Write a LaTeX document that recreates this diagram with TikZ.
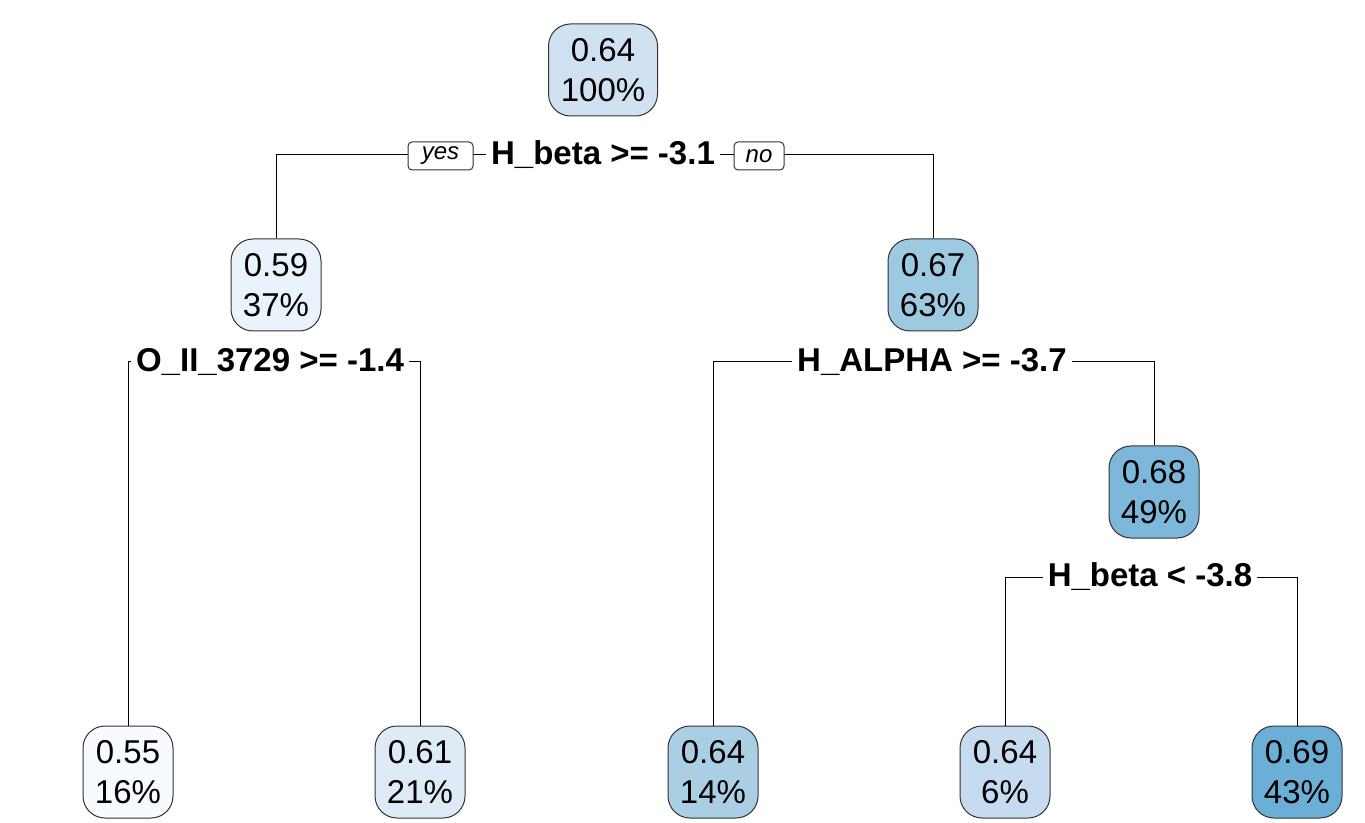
\documentclass[tikz,border=0pt]{standalone}
\usepackage{fontspec}
\setmainfont{Liberation Sans}
\definecolor{c064r}{RGB}{208,225,242}
\definecolor{c059}{RGB}{234,242,251}
\definecolor{c067}{RGB}{158,202,225}
\definecolor{c055}{RGB}{247,251,255}
\definecolor{c061}{RGB}{222,235,247}
\definecolor{c064a}{RGB}{170,207,229}
\definecolor{c064b}{RGB}{198,219,239}
\definecolor{c068}{RGB}{125,184,218}
\definecolor{c069}{RGB}{107,174,214}
\begin{document}
\begin{tikzpicture}[x=0.5pt,y=-0.5pt,
  box/.style={draw=black!80, line width=0.5pt, rounded corners=11pt, minimum width=45pt, minimum height=46pt,
    inner sep=0pt, align=center, font=\fontsize{16.5}{20}\selectfont},
  splitlbl/.style={fill=white, inner sep=2.5pt, font=\fontsize{16.5}{20}\selectfont\bfseries},
  yn/.style={draw=black!80, fill=white, line width=0.5pt, rounded corners=2pt, minimum width=30pt, minimum height=14pt,
    inner sep=1pt, font=\fontsize{12}{14}\selectfont\itshape},
  conn/.style={draw=black, line width=0.5pt}]
\useasboundingbox (0,0) rectangle (1365,823);
\fill[white] (0,0) rectangle (1365,823);
% boxes
\node[box, fill=c064r, minimum width=54.5pt] (n1) at (603,70) {0.64\\100\%};
\node[box, fill=c059] (n2) at (276,285) {0.59\\37\%};
\node[box, fill=c067] (n3) at (933,285) {0.67\\63\%};
\node[box, fill=c068] (n7) at (1154,492) {0.68\\49\%};
\node[box, fill=c055] (l1) at (128,772) {0.55\\16\%};
\node[box, fill=c061] (l2) at (420,772) {0.61\\21\%};
\node[box, fill=c064a] (l3) at (713,772) {0.64\\14\%};
\node[box, fill=c064b] (l4) at (1005,772) {0.64\\6\%};
\node[box, fill=c069] (l5) at (1297,772) {0.69\\43\%};
% connectors
\draw[conn] (n2.north) -- (n2.north |- 0,155) -- (n3.north |- 0,155) -- (n3.north);
\draw[conn] (l1.north) -- (l1.north |- 0,362) -- (l2.north |- 0,362) -- (l2.north);
\draw[conn] (l3.north) -- (l3.north |- 0,362) -- (n7.north |- 0,362) -- (n7.north);
\draw[conn] (l4.north) -- (l4.north |- 0,577) -- (l5.north |- 0,577) -- (l5.north);
% split labels
\node[splitlbl] (s1) at (603,155) {H\_beta >= -3.1};
\node[yn, minimum width=32.5pt] (yes) at (440.5,156) {yes};
\node[yn, minimum width=25pt] (no) at (759,156) {no};
\node[splitlbl] (s2) at (270,362) {O\_II\_3729 >= -1.4};
\node[splitlbl] (s3) at (932,362) {H\_ALPHA >= -3.7};
\node[splitlbl] (s4) at (1150,577) {H\_beta < -3.8};
\end{tikzpicture}
\end{document}
